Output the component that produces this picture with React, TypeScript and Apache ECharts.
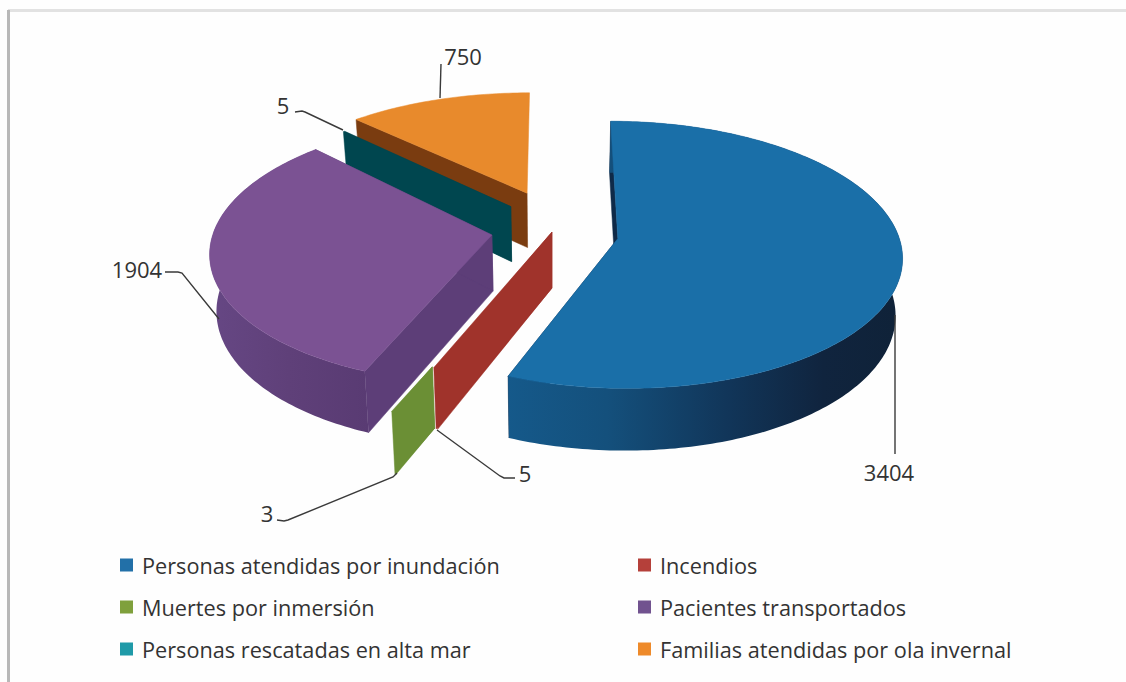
import React, { useEffect, useRef } from "react";
import * as echarts from "echarts";

const categories = [
  "Personas atendidas por inundación",
  "Incendios",
  "Muertes por inmersión",
  "Pacientes transportados",
  "Personas rescatadas en alta mar",
  "Familias atendidas por ola invernal",
];
const values = [3404, 5, 3, 1904, 5, 750];

// Styling
const topColors = ["#1a6fa8", "#a5352c", "#74983a", "#7b5293", "#0f8fa3", "#e88a2c"];
const legendColors = ["#2270a8", "#b5403a", "#7fa03c", "#71528f", "#1f9aa8", "#ee8a2a"];
const edgeColors = ["#0f2a48", "#a0332b", "#6b8f35", "#5d3e78", "#00464f", "#7a3c10"];

// Layout: disk-plane explosion and radius per slice, draw order back to front
const explodeU = [0.228, 0, -0.11, -0.209, -0.147, -0.09];
const explodeV = [-0.05, 0, -0.284, -0.023, 0.2, 0.31];
const radiusU = [0.975, 0.97, 0.97, 0.97, 0.93, 0.96];
const radiusV = [1, 1, 0.97, 1, 0.92, 0.92];
// Part of the radial wall hidden behind the neighbouring slice, so not painted
const hiddenInner = [0, 0, 0.71, 0, 0, 0];
const drawOrder = [5, 4, 2, 1, 3, 0];
const CX = 552, CY = 232, RX = 287, RY = 130, K = 0.121;
const ROTATION = 0;

const labelPos = [
  [889, 472], [525, 473], [267, 513], [137, 269], [283, 105], [463, 56],
];
const leaderLines = [
  [[895, 315], [895, 454]],
  [[437, 430], [500, 476], [504, 478], [515, 478]],
  [[397, 473], [393, 477], [288, 520], [284, 521], [277, 520]],
  [[219, 319], [182, 273], [178, 272], [165, 272]],
  [[343, 130], [305, 112], [302, 111], [295, 112]],
  [[440, 98], [441, 64]],
];

const total = values.reduce((a, b) => a + b, 0);

function project(u: number, v: number): [number, number] {
  const d = 1 + K * v;
  return [CX + (RX * u) / d, CY - (RY * v) / d];
}
function lower(p: [number, number]): [number, number] {
  return [CX + (p[0] - CX) * 0.98, CY + (p[1] - CY) * 1.04 + 56];
}

function sliceShapes(i: number) {
  const before = values.slice(0, i).reduce((a, b) => a + b, 0);
  const a0 = ROTATION + (before / total) * 360;
  const a1 = a0 + (values[i] / total) * 360;
  const u0 = explodeU[i], v0 = explodeV[i];
  const rim: [number, number][] = [];
  const steps = Math.max(2, Math.ceil(a1 - a0));
  for (let s = 0; s <= steps; s++) {
    const t = ((a0 + ((a1 - a0) * s) / steps) * Math.PI) / 180;
    rim.push(project(u0 + radiusU[i] * Math.sin(t), v0 + radiusV[i] * Math.cos(t)));
  }
  const midT = (((a0 + a1) / 2) * Math.PI) / 180;
  const h = hiddenInner[i];
  const apex = project(u0 + h * radiusU[i] * Math.sin(midT), v0 + h * radiusV[i] * Math.cos(midT));
  const children: any[] = [];
  const poly = (points: [number, number][], fill: any) => ({
    type: "polygon",
    shape: { points },
    style: { fill, stroke: typeof fill === "string" ? fill : undefined, lineWidth: typeof fill === "string" ? 0.5 : 0 },
  });
  const apexLow = lower(apex);
  const first = rim[0], last = rim[rim.length - 1];
  children.push(poly([first, apex, apexLow, lower(first)], edgeColors[i]));
  if (i !== 5) children.push(poly([last, apex, apexLow, lower(last)], edgeColors[i]));
  const wallFill =
    i === 0
      ? new echarts.graphic.LinearGradient(0, 0, 1, 0, [
          { offset: 0, color: "#15598a" },
          { offset: 0.25, color: "#14507c" },
          { offset: 0.55, color: "#11365a" },
          { offset: 0.8, color: "#10243e" },
          { offset: 1, color: "#0f2238" },
        ])
      : i === 3
      ? new echarts.graphic.LinearGradient(0, 0, 1, 0, [
          { offset: 0, color: "#664784" },
          { offset: 0.5, color: "#5f4079" },
          { offset: 1, color: "#593b73" },
        ])
      : edgeColors[i];
  if (a1 - a0 > 1) {
    // Only the front-facing part of the rim wall contributes; painting the top afterwards hides the rest.
    if (i !== 5) children.push(poly([...rim, ...rim.map(lower).reverse()], wallFill));
    children.push(poly([apex, ...rim], topColors[i]));
  }
  return children;
}

const seriesList = drawOrder.map((i) => ({
  type: "custom",
  name: categories[i],
  coordinateSystem: "none",
  silent: true,
  data: [values[i]],
  itemStyle: { color: legendColors[i] },
  renderItem: () => ({ type: "group", children: sliceShapes(i) }),
}));

const FONT = "'Open Sans', sans-serif";
const legendBase = {
  orient: "vertical",
  top: 552,
  itemWidth: 13,
  itemHeight: 13,
  itemGap: 16,
  icon: "rect",
  selectedMode: false,
  padding: 0,
  textStyle: { fontFamily: FONT, fontSize: 21.7, color: "#333", padding: [0, 0, 0, 4], lineHeight: 26 },
};

export default function App() {
  const ref = useRef<HTMLDivElement>(null);
  useEffect(() => {
    document.body.style.margin = "0";
    const chart = echarts.init(ref.current!, null, { renderer: "svg" });
    chart.setOption({
      animation: false,
      backgroundColor: "#fefefe",
      legend: [
        { ...legendBase, left: 120, data: [categories[0], categories[2], categories[4]] },
        { ...legendBase, left: 638, data: [categories[1], categories[3], categories[5]] },
      ],
      graphic: [
        { type: "rect", shape: { x: 8, y: 9, width: 1118, height: 3 }, style: { fill: "#e2e2e2" }, z: 0 },
        { type: "rect", shape: { x: 7, y: 10, width: 3, height: 672 }, style: { fill: "#b8b8b8" }, z: 0 },
        ...leaderLines.map((points) => ({
          type: "polyline",
          shape: { points },
          style: { stroke: "#3a3a3a", lineWidth: 1.4, fill: "none" },
          z: 10,
        })),
        ...values.map((v, i) => ({
          type: "text",
          x: labelPos[i][0],
          y: labelPos[i][1],
          style: {
            text: String(v),
            fontFamily: FONT,
            fontSize: 22,
            fill: "#333",
            align: "center",
            verticalAlign: "middle",
          },
          z: 10,
        })),
      ],
      series: seriesList,
    });
    return () => chart.dispose();
  }, []);
  return <div ref={ref} style={{ width: 1126, height: 682, overflow: "hidden" }} />;
}
